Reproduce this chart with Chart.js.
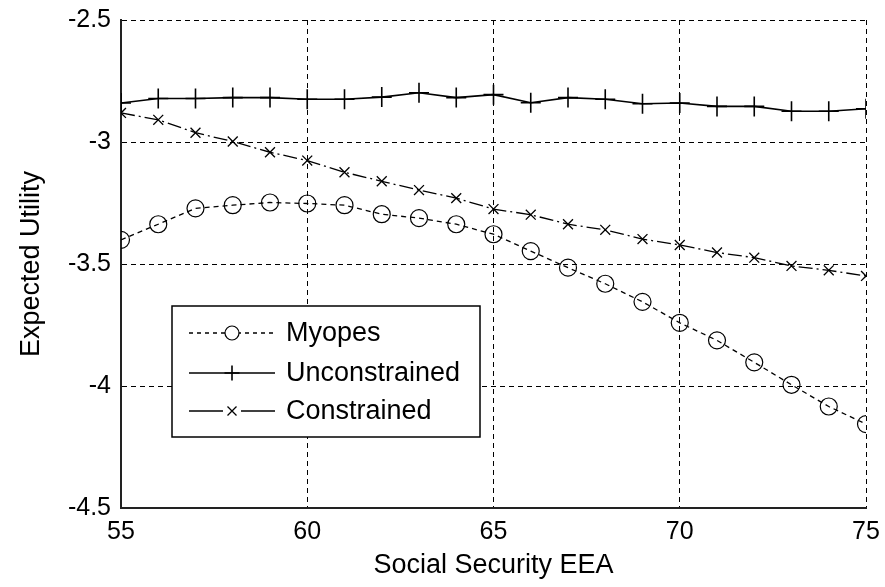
<!DOCTYPE html>
<html>
<head>
<meta charset="utf-8">
<script src="https://cdn.jsdelivr.net/npm/chart.js@4.4.1/dist/chart.umd.min.js"></script>
<style>
  html, body { margin: 0; padding: 0; background: #fff; }
  #wrap { width: 885px; height: 587px; }
</style>
</head>
<body>
<div id="wrap"><canvas id="c" width="885" height="587"></canvas></div>
<script>
const eeaAges = [55,56,57,58,59,60,61,62,63,64,65,66,67,68,69,70,71,72,73,74,75];
const myopes = [-3.401,-3.337,-3.272,-3.259,-3.248,-3.252,-3.259,-3.296,-3.312,-3.337,-3.378,-3.447,-3.515,-3.581,-3.655,-3.741,-3.813,-3.903,-3.995,-4.084,-4.156];
const unconstrained = [-2.840,-2.822,-2.822,-2.818,-2.818,-2.825,-2.825,-2.816,-2.798,-2.818,-2.806,-2.839,-2.818,-2.825,-2.843,-2.840,-2.854,-2.854,-2.874,-2.874,-2.864];
const constrained = [-2.881,-2.909,-2.962,-2.998,-3.042,-3.076,-3.124,-3.161,-3.197,-3.230,-3.275,-3.298,-3.337,-3.360,-3.398,-3.422,-3.453,-3.474,-3.508,-3.526,-3.549];
const seriesNames = ['Myopes','Unconstrained','Constrained'];
const xTickValues = [55,60,65,70,75];
const yTickValues = [-2.5,-3,-3.5,-4,-4.5];
const yTickLabels = ['-2.5','-3','-3.5','-4','-4.5'];
const xTitle = 'Social Security EEA';
const yTitle = 'Expected Utility';

const FONT = '"Liberation Sans", Arial, sans-serif';
const toPts = arr => arr.map((v,i) => ({x: eeaAges[i], y: v}));

const datasets = [
  { label: seriesNames[0], data: toPts(myopes), borderColor:'#000', borderWidth:1.3, borderDash:[5,4],
    pointStyle:'circle', pointRadius:8.5, pointBorderColor:'#000', pointBackgroundColor:'rgba(0,0,0,0)', pointBorderWidth:1.2,
    legendMarkerRadius:7, legendDash:[4,4] },
  { label: seriesNames[1], data: toPts(unconstrained), borderColor:'#000', borderWidth:1.6, borderDash:[],
    pointStyle:'cross', pointRadius:10, pointBorderColor:'#000', pointBorderWidth:1.6,
    legendMarkerRadius:7.5, legendDash:[] },
  { label: seriesNames[2], data: toPts(constrained), borderColor:'#000', borderWidth:1.3, borderDash:[14,4,2,4],
    pointStyle:'crossRot', pointRadius:7, pointBorderColor:'#000', pointBorderWidth:1.3,
    legendMarkerRadius:4.5, legendDash:[] }
];

function drawMarker(ctx, style, x, y, r) {
  ctx.beginPath();
  if (style === 'circle') {
    ctx.arc(x, y, r, 0, Math.PI*2);
  } else if (style === 'cross') {
    ctx.moveTo(x, y-r); ctx.lineTo(x, y+r);
    ctx.moveTo(x-r, y); ctx.lineTo(x+r, y);
  } else if (style === 'crossRot') {
    ctx.moveTo(x-r, y-r); ctx.lineTo(x+r, y+r);
    ctx.moveTo(x-r, y+r); ctx.lineTo(x+r, y-r);
  }
  ctx.stroke();
}

const legendBox = {
  id: 'legendBox',
  afterDatasetsDraw(chart) {
    const ctx = chart.ctx;
    const left = 172, top = 306, right = 480, bottom = 437;
    ctx.save();
    ctx.fillStyle = '#fff';
    ctx.fillRect(left, top, right-left, bottom-top);
    ctx.strokeStyle = '#000';
    ctx.lineWidth = 1.5;
    ctx.setLineDash([]);
    ctx.strokeRect(left, top, right-left, bottom-top);
    const rowsY = [333, 373, 411];
    chart.data.datasets.forEach((ds, i) => {
      const y = rowsY[i];
      ctx.strokeStyle = '#000';
      ctx.lineWidth = ds.borderWidth;
      ctx.setLineDash(ds.legendDash || []);
      ctx.beginPath();
      ctx.moveTo(189, y); ctx.lineTo(275, y);
      ctx.stroke();
      ctx.setLineDash([]);
      ctx.lineWidth = ds.pointBorderWidth;
      if (ds.pointStyle === 'circle' || ds.pointStyle === 'crossRot') {
        ctx.fillStyle = '#fff';
        if (ds.pointStyle === 'circle') {
          ctx.beginPath(); ctx.arc(232, y, ds.legendMarkerRadius, 0, Math.PI*2); ctx.fill();
        } else {
          ctx.fillRect(232 - 9, y - 3, 18, 6);
        }
      }
      drawMarker(ctx, ds.pointStyle, 232, y, ds.legendMarkerRadius);
      ctx.fillStyle = '#000';
      ctx.font = '27px ' + FONT;
      ctx.textAlign = 'left';
      ctx.textBaseline = 'middle';
      ctx.fillText(ds.label, 286, y + 1);
    });
    ctx.restore();
  }
};

new Chart(document.getElementById('c'), {
  type: 'line',
  data: { datasets },
  options: {
    responsive: false,
    animation: false,
    devicePixelRatio: 1,
    layout: { padding: { top: 20, right: 19, bottom: 5, left: 0 } },
    plugins: { legend: { display: false }, tooltip: { enabled: false } },
    elements: { line: { tension: 0, fill: false } },
    scales: {
      x: {
        type: 'linear', min: 55, max: 75,
        afterBuildTicks: s => { s.ticks = xTickValues.map(v => ({value: v})); },
        afterFit: s => { s.height = 74; s.paddingLeft = 0; s.paddingRight = 0; },
        grid: { color: '#000', lineWidth: 1, drawTicks: false },
        border: { display: true, color: '#222', width: 2, dash: [5,4] },
        ticks: { color: '#000', font: { family: FONT, size: 25 }, padding: 9, maxRotation: 0,
                 callback: v => String(v) },
        title: { display: true, text: xTitle, color: '#000', font: { family: FONT, size: 27 }, padding: { top: 0, bottom: 0 } }
      },
      y: {
        type: 'linear', min: -4.5, max: -2.5,
        afterBuildTicks: s => { s.ticks = yTickValues.map(v => ({value: v})); },
        afterFit: s => { s.width = 121; s.paddingTop = 0; s.paddingBottom = 0; },
        grid: { color: '#000', lineWidth: 1, drawTicks: false },
        border: { display: true, color: '#222', width: 2, dash: [5,4] },
        ticks: { color: '#000', font: { family: FONT, size: 25 }, padding: 10,
                 callback: (v) => { const k = yTickValues.indexOf(v); return k >= 0 ? yTickLabels[k] : ''; } },
        title: { display: true, text: yTitle, color: '#000', font: { family: FONT, size: 27 }, padding: { top: 15, bottom: 0 } }
      }
    }
  },
  plugins: [legendBox]
});
</script>
</body>
</html>
